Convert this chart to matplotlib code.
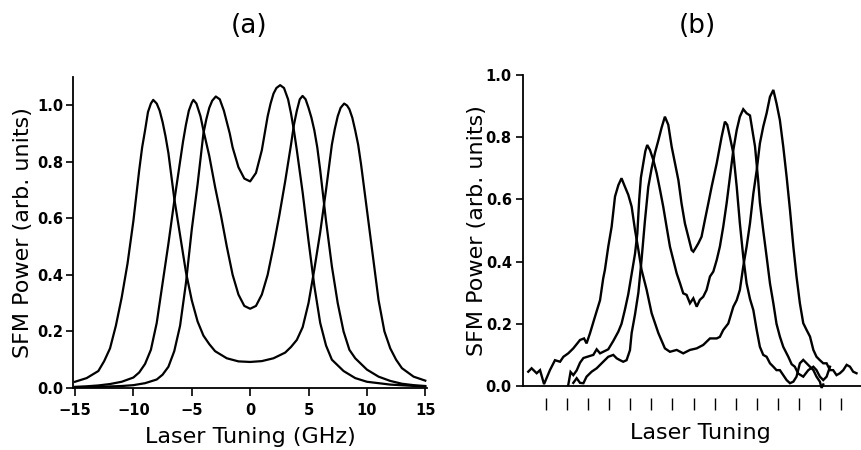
import matplotlib
matplotlib.use("Agg")
import matplotlib.pyplot as plt
from matplotlib.ticker import FormatStrFormatter

plt.rcParams["font.family"] = ["DejaVu Sans"]

# (a) calculated SFM power vs. laser detuning (GHz), three phase-matching settings
tuning_outer = [-15, -14, -13, -12.5, -12, -11.5, -11, -10.5, -10, -9.5, -9.25, -9, -8.75,
                -8.5, -8.3, -8, -7.75, -7.5, -7.25, -7, -6.75, -6.5, -6, -5.5, -5, -4.5, -4,
                -3.5, -3, -2, -1, 0, 1, 2, 3, 3.5, 4, 4.5, 5, 5.5, 6, 6.5, 7, 7.25, 7.5,
                7.75, 8.05, 8.3, 8.5, 8.75, 9, 9.25, 9.5, 10, 10.5, 11, 11.5, 12, 12.5, 13,
                14, 15]
power_outer = [0.022, 0.035, 0.06, 0.095, 0.14, 0.22, 0.32, 0.44, 0.59, 0.77, 0.85, 0.91,
               0.975, 1.005, 1.018, 1.005, 0.98, 0.94, 0.89, 0.83, 0.75, 0.67, 0.54, 0.41,
               0.31, 0.235, 0.185, 0.155, 0.13, 0.105, 0.094, 0.092, 0.095, 0.105, 0.125,
               0.145, 0.17, 0.215, 0.30, 0.42, 0.55, 0.70, 0.86, 0.915, 0.96, 0.99, 1.005,
               0.998, 0.985, 0.955, 0.91, 0.86, 0.79, 0.63, 0.47, 0.31, 0.20, 0.14, 0.10,
               0.07, 0.04, 0.026]

tuning_middle = [-15, -14, -13, -12, -11, -10, -9.5, -9, -8.5, -8, -7.5, -7, -6.5, -6.25,
                 -6, -5.75, -5.5, -5.25, -5, -4.86, -4.6, -4.25, -4, -3.5, -3, -2.5, -2,
                 -1.5, -1, -0.5, 0, 0.5, 1, 1.5, 2, 2.5, 3, 3.5, 3.75, 4, 4.25, 4.49, 4.75,
                 5, 5.25, 5.5, 5.75, 6, 6.5, 7, 7.5, 8, 8.5, 9, 9.5, 10, 11, 12, 13, 14, 15]
power_middle = [0.004, 0.006, 0.009, 0.014, 0.022, 0.037, 0.055, 0.085, 0.135, 0.23, 0.37,
                0.51, 0.66, 0.73, 0.80, 0.87, 0.93, 0.98, 1.008, 1.018, 1.005, 0.96, 0.91,
                0.82, 0.71, 0.61, 0.50, 0.40, 0.33, 0.29, 0.28, 0.29, 0.33, 0.40, 0.50, 0.61,
                0.73, 0.86, 0.93, 0.98, 1.02, 1.032, 1.02, 0.99, 0.955, 0.91, 0.85, 0.77,
                0.59, 0.43, 0.30, 0.20, 0.135, 0.105, 0.085, 0.065, 0.04, 0.025, 0.015,
                0.01, 0.007]

tuning_inner = [-15, -13, -11, -10, -9, -8, -7.5, -7, -6.5, -6, -5.5, -5, -4.5, -4, -3.75,
                -3.5, -3.25, -2.94, -2.6, -2.25, -2, -1.75, -1.5, -1, -0.5, 0, 0.5, 1, 1.5,
                1.75, 2, 2.25, 2.57, 2.9, 3.25, 3.5, 3.75, 4, 4.5, 5, 5.5, 6, 6.5, 7, 8, 9,
                10, 12, 15]
power_inner = [0.002, 0.004, 0.007, 0.01, 0.017, 0.03, 0.047, 0.075, 0.13, 0.22, 0.37, 0.56,
               0.72, 0.90, 0.95, 0.99, 1.015, 1.03, 1.02, 0.98, 0.94, 0.90, 0.85, 0.78, 0.74,
               0.73, 0.76, 0.84, 0.96, 1.005, 1.04, 1.06, 1.07, 1.06, 1.02, 0.97, 0.91, 0.84,
               0.69, 0.52, 0.36, 0.23, 0.15, 0.10, 0.06, 0.035, 0.022, 0.012, 0.005]

# (b) measured scans, tuning axis in tick-mark units
scan1_x = [0.15, 0.31, 0.55, 0.71, 0.90, 1.18, 1.42, 1.66, 1.82, 2.05, 2.29, 2.61, 2.80, 2.92,
           3.08, 3.32, 3.56, 3.71, 3.79, 3.95, 4.11, 4.27, 4.43, 4.58, 4.74, 4.90, 5.06,
           5.22, 5.38, 5.53, 5.77, 6.01, 6.33, 6.64, 6.88, 7.20, 7.51, 7.83, 8.15, 8.46,
           8.78, 9.10, 9.25, 9.41, 9.65, 9.89, 10.05, 10.20, 10.36, 10.52, 10.68, 10.84,
           11.00, 11.15, 11.31, 11.47, 11.63, 11.79, 11.94, 12.10, 12.26, 12.42, 12.58,
           12.74, 12.89, 13.05, 13.21, 13.37, 13.53, 13.69, 13.84, 14.00, 14.16, 14.32,
           14.48, 14.63, 14.79, 14.95, 15.11, 15.27, 15.43, 15.58, 15.74]
scan1_y = [0.046, 0.057, 0.041, 0.051, 0.006, 0.051, 0.083, 0.078, 0.094, 0.105, 0.121,
           0.148, 0.153, 0.137, 0.169, 0.223, 0.276, 0.346, 0.373, 0.448, 0.512, 0.609,
           0.646, 0.668, 0.641, 0.615, 0.577, 0.502, 0.438, 0.374, 0.310, 0.234, 0.170,
           0.121, 0.110, 0.116, 0.105, 0.116, 0.121, 0.132, 0.153, 0.153, 0.158, 0.180,
           0.201, 0.255, 0.276, 0.309, 0.384, 0.448, 0.523, 0.619, 0.694, 0.780, 0.834,
           0.877, 0.930, 0.952, 0.909, 0.855, 0.770, 0.673, 0.566, 0.448, 0.352, 0.266,
           0.202, 0.180, 0.159, 0.116, 0.094, 0.083, 0.073, 0.073, 0.051, 0.051, 0.035,
           0.041, 0.051, 0.068, 0.062, 0.046, 0.041]

scan2_x = [2.05, 2.16, 2.29, 2.45, 2.61, 2.77, 3.00, 3.24, 3.40, 3.56, 3.71, 3.95, 4.19,
           4.43, 4.58, 4.74, 4.90, 5.06, 5.22, 5.33, 5.42, 5.50, 5.61, 5.71, 5.80, 5.93,
           6.09, 6.25, 6.41, 6.56, 6.72, 6.88, 7.04, 7.20, 7.36, 7.51, 7.67, 7.83, 7.99,
           8.15, 8.30, 8.46, 8.62, 8.78, 8.94, 9.10, 9.25, 9.41, 9.57, 9.73, 9.89, 10.05,
           10.20, 10.36, 10.52, 10.68, 10.92, 11.07, 11.15, 11.31, 11.47, 11.63, 11.79,
           11.94, 12.10, 12.26, 12.50, 12.66, 12.81, 12.97, 13.21, 13.45, 13.69, 13.84,
           14.00, 14.16, 14.32, 14.48]
scan2_y = [0.003, 0.045, 0.035, 0.050, 0.075, 0.090, 0.095, 0.100, 0.118, 0.105, 0.110,
           0.118, 0.145, 0.175, 0.200, 0.245, 0.295, 0.360, 0.425, 0.490, 0.600, 0.670,
           0.715, 0.755, 0.775, 0.759, 0.727, 0.684, 0.630, 0.577, 0.512, 0.448, 0.405,
           0.362, 0.330, 0.298, 0.293, 0.266, 0.282, 0.255, 0.277, 0.287, 0.309, 0.352,
           0.368, 0.405, 0.448, 0.512, 0.587, 0.673, 0.759, 0.823, 0.866, 0.890, 0.877,
           0.870, 0.770, 0.660, 0.590, 0.500, 0.416, 0.330, 0.266, 0.200, 0.159, 0.126,
           0.094, 0.070, 0.062, 0.040, 0.030, 0.051, 0.062, 0.051, 0.030, 0.019, 0.030,
           0.062]

scan3_x = [2.29, 2.45, 2.61, 2.77, 2.92, 3.16, 3.40, 3.71, 3.95, 4.19, 4.35, 4.51, 4.66,
           4.82, 4.98, 5.06, 5.22, 5.38, 5.53, 5.69, 5.85, 6.01, 6.17, 6.33, 6.48, 6.64,
           6.80, 6.96, 7.12, 7.28, 7.43, 7.59, 7.75, 7.91, 7.99, 8.11, 8.23, 8.38, 8.54,
           8.70, 8.86, 9.10, 9.33, 9.49, 9.60, 9.73, 9.89, 10.05, 10.20, 10.36, 10.52,
           10.68, 10.84, 11.00, 11.15, 11.31, 11.47, 11.63, 11.79, 11.94, 12.10, 12.26,
           12.42, 12.58, 12.74, 12.89, 13.05, 13.21, 13.37, 13.53, 13.69, 13.84, 14.00,
           14.08, 14.16]
scan3_y = [0.010, 0.025, 0.010, 0.009, 0.030, 0.046, 0.057, 0.078, 0.094, 0.100, 0.089,
           0.083, 0.078, 0.083, 0.115, 0.170, 0.230, 0.300, 0.405, 0.530, 0.640, 0.700,
           0.750, 0.790, 0.830, 0.866, 0.840, 0.770, 0.716, 0.662, 0.587, 0.523, 0.480,
           0.437, 0.432, 0.445, 0.459, 0.480, 0.534, 0.587, 0.641, 0.716, 0.800, 0.850,
           0.840, 0.800, 0.748, 0.641, 0.523, 0.416, 0.330, 0.280, 0.244, 0.180, 0.126,
           0.100, 0.094, 0.073, 0.062, 0.051, 0.051, 0.035, 0.019, 0.009, 0.014, 0.030,
           0.073, 0.084, 0.073, 0.062, 0.051, 0.030, 0.014, -0.006, 0.005]

scan_ticks = list(range(1, 16))

label_size = 16
tick_size = 10.5

fig = plt.figure(figsize=(8.62, 4.5), dpi=100)

# %% panel (a)
ax_a = fig.add_axes([0.0847, 0.1378, 0.4107, 0.6918])
for x, y in [(tuning_outer, power_outer), (tuning_middle, power_middle),
             (tuning_inner, power_inner)]:
    ax_a.plot(x, y, color="black", lw=1.6, solid_joinstyle="round")
ax_a.set_xlim(-15.17, 15.15)
ax_a.set_ylim(0, 1.1)
ax_a.set_xticks([-15, -10, -5, 0, 5, 10, 15])
ax_a.set_yticks([0, 0.2, 0.4, 0.6, 0.8, 1.0])
ax_a.yaxis.set_major_formatter(FormatStrFormatter("%.1f"))
ax_a.spines[["top", "right"]].set_visible(False)
for s in ["left", "bottom"]:
    ax_a.spines[s].set_linewidth(1.3)
ax_a.tick_params(axis="x", direction="out", length=6, width=1.2, pad=5, labelsize=tick_size)
ax_a.tick_params(axis="y", direction="out", length=5, width=1.2, pad=2, labelsize=tick_size)
for lab in ax_a.get_xticklabels() + ax_a.get_yticklabels():
    lab.set_fontweight("bold")
ax_a.set_xlabel("Laser Tuning (GHz)", fontsize=label_size)
ax_a.set_ylabel("SFM Power (arb. units)", fontsize=label_size)
ax_a.xaxis.set_label_coords(0.5, -0.125)
ax_a.xaxis.label.set_va("top")
ax_a.yaxis.set_label_coords(-0.112, 0.5)

# %% panel (b)
ax_b = fig.add_axes([0.6067, 0.1284, 0.3933, 0.7049])
for x, y in [(scan1_x, scan1_y), (scan2_x, scan2_y), (scan3_x, scan3_y)]:
    ax_b.plot(x, y, color="black", lw=1.7, solid_joinstyle="miter")
ax_b.axhline(0, color="black", lw=1.3)
ax_b.set_xlim(-0.1, 16.0)
ax_b.set_ylim(-0.02, 1.0)
ax_b.set_xticks(scan_ticks)
ax_b.set_yticks([0, 0.2, 0.4, 0.6, 0.8, 1.0])
ax_b.yaxis.set_major_formatter(FormatStrFormatter("%.1f"))
ax_b.spines[["top", "right"]].set_visible(False)
ax_b.spines["left"].set_bounds(0, 1.0)
ax_b.spines["left"].set_linewidth(1.3)
ax_b.spines["bottom"].set_position(("outward", 4.3))
ax_b.spines["bottom"].set_visible(False)
ax_b.tick_params(axis="x", direction="out", length=8.6, width=1.0, labelbottom=False)
ax_b.tick_params(axis="y", direction="out", length=5, width=1.2, pad=3, labelsize=tick_size)
for lab in ax_b.get_yticklabels():
    lab.set_fontweight("bold")
ax_b.set_xlabel("Laser Tuning", fontsize=label_size)
ax_b.set_ylabel("SFM Power (arb. units)", fontsize=label_size)
ax_b.xaxis.set_label_coords(0.522, -0.097)
ax_b.xaxis.label.set_va("top")
ax_b.yaxis.set_label_coords(-0.106, 0.51)

fig.text(249 / 862, 1 - 26 / 450, "(a)", fontsize=19, ha="center", va="center")
fig.text(697 / 862, 1 - 26 / 450, "(b)", fontsize=19, ha="center", va="center")

fig.savefig("out.png", dpi=100)
